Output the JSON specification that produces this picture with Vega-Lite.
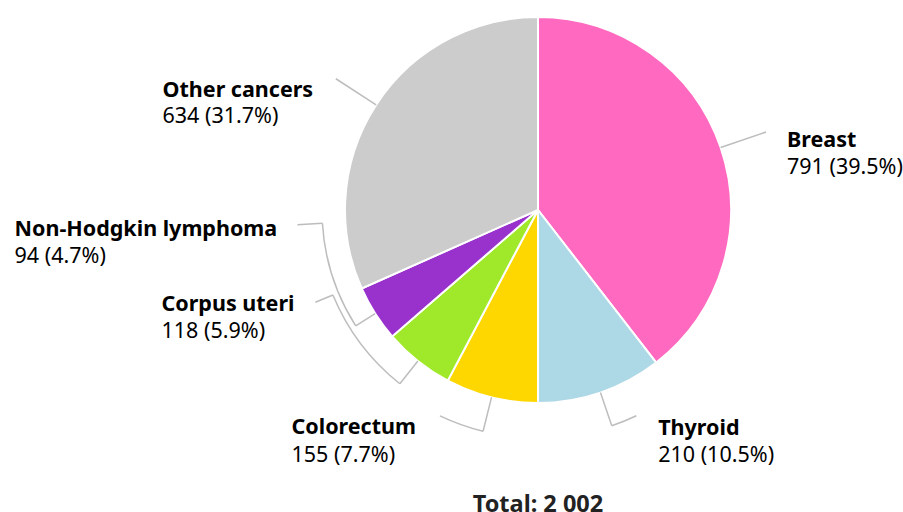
{
  "$schema": "https://vega.github.io/schema/vega-lite/v6.json",
  "width": 730,
  "height": 420,
  "autosize": {"type": "none"},
  "padding": {"left": 173, "top": 0, "right": 0, "bottom": 92},
  "background": "white",
  "config": {"view": {"stroke": null}, "font": "Noto Sans"},
  "title": {"text": "Total: 2 002", "orient": "bottom", "anchor": "middle", "frame": "group", "fontSize": 23.5, "fontWeight": "bold", "color": "#222222", "font": "Noto Sans", "offset": 26.5},
  "data": {"values": [
    {"cancer": "Breast", "count": 791, "rank": 1, "label": "791 (39.5%)"},
    {"cancer": "Thyroid", "count": 210, "rank": 2, "label": "210 (10.5%)"},
    {"cancer": "Colorectum", "count": 155, "rank": 3, "label": "155 (7.7%)"},
    {"cancer": "Corpus uteri", "count": 118, "rank": 4, "label": "118 (5.9%)"},
    {"cancer": "Non-Hodgkin lymphoma", "count": 94, "rank": 5, "label": "94 (4.7%)"},
    {"cancer": "Other cancers", "count": 634, "rank": 6, "label": "634 (31.7%)"}
  ]},
  "transform": [{"stack": "count", "groupby": [], "sort": [{"field": "rank", "order": "ascending"}], "as": ["t0", "t1"]}],
  "layer": [
    {
      "mark": {"type": "arc", "radius": 193, "stroke": "white", "strokeWidth": 2},
      "encoding": {
        "theta": {"field": "t0", "type": "quantitative", "stack": null, "scale": {"domain": [0, 2002], "nice": false}},
        "theta2": {"field": "t1"},
        "color": {"field": "cancer", "type": "nominal", "legend": null,
          "scale": {"domain": ["Breast", "Thyroid", "Colorectum", "Corpus uteri", "Non-Hodgkin lymphoma", "Other cancers"],
                    "range": ["#ff69c0", "#add8e6", "#ffd700", "#a0e82a", "#9932cc", "#cccccc"]}}
      }
    },
    {
      "transform": [{"filter": {"field": "cancer", "oneOf": ["Breast", "Other cancers"]}}],
      "mark": {"type": "arc", "filled": false, "stroke": "#bdbdbd", "strokeWidth": 1.5, "padAngle": 3, "radius": 241, "radius2": 193},
      "encoding": {"theta": {"field": "t0", "type": "quantitative", "stack": null, "scale": {"domain": [0, 2002], "nice": false}}, "theta2": {"field": "t1"}}
    },
    {
      "transform": [{"filter": {"field": "cancer", "oneOf": ["Thyroid", "Colorectum"]}}],
      "mark": {"type": "arc", "filled": false, "stroke": "#bdbdbd", "strokeWidth": 1.5, "padAngle": 3, "radius": 228, "radius2": 193},
      "encoding": {"theta": {"field": "t0", "type": "quantitative", "stack": null, "scale": {"domain": [0, 2002], "nice": false}}, "theta2": {"field": "t1"}}
    },
    {
      "transform": [{"filter": {"field": "cancer", "equal": "Corpus uteri"}}],
      "mark": {"type": "arc", "filled": false, "stroke": "#bdbdbd", "strokeWidth": 1.5, "padAngle": 3, "radius": 222, "radius2": 193},
      "encoding": {"theta": {"field": "t0", "type": "quantitative", "stack": null, "scale": {"domain": [0, 2002], "nice": false}}, "theta2": {"field": "t1"}}
    },
    {
      "transform": [{"filter": {"field": "cancer", "equal": "Non-Hodgkin lymphoma"}}],
      "mark": {"type": "arc", "filled": false, "stroke": "#bdbdbd", "strokeWidth": 1.5, "padAngle": 3, "radius": 216, "radius2": 193},
      "encoding": {"theta": {"field": "t0", "type": "quantitative", "stack": null, "scale": {"domain": [0, 2002], "nice": false}}, "theta2": {"field": "t1"}}
    },
    {
      "transform": [{"filter": {"field": "cancer", "equal": "Thyroid"}}],
      "mark": {"type": "arc", "filled": false, "stroke": "#bdbdbd", "strokeWidth": 1.5, "radius": 228, "radius2": 228, "thetaOffset": 0.32954, "theta2Offset": 0.21314},
      "encoding": {"theta": {"field": "t0", "type": "quantitative", "stack": null, "scale": {"domain": [0, 2002], "nice": false}}, "theta2": {"field": "t0"}}
    },
    {
      "transform": [{"filter": {"field": "cancer", "equal": "Colorectum"}}],
      "mark": {"type": "arc", "filled": false, "stroke": "#bdbdbd", "strokeWidth": 1.5, "radius": 228, "radius2": 228, "thetaOffset": 0.24323, "theta2Offset": 0.44436},
      "encoding": {"theta": {"field": "t0", "type": "quantitative", "stack": null, "scale": {"domain": [0, 2002], "nice": false}}, "theta2": {"field": "t0"}}
    },
    {
      "transform": [{"filter": {"field": "cancer", "equal": "Corpus uteri"}}],
      "mark": {"type": "arc", "filled": false, "stroke": "#bdbdbd", "strokeWidth": 1.5, "radius": 222, "radius2": 222, "thetaOffset": 0.18518, "theta2Offset": 0.69164},
      "encoding": {"theta": {"field": "t0", "type": "quantitative", "stack": null, "scale": {"domain": [0, 2002], "nice": false}}, "theta2": {"field": "t0"}}
    },
    {
      "transform": [{"filter": {"field": "cancer", "equal": "Non-Hodgkin lymphoma"}}],
      "mark": {"type": "arc", "filled": false, "stroke": "#bdbdbd", "strokeWidth": 1.5, "radius": 216, "radius2": 216, "thetaOffset": 0.14752, "theta2Offset": 0.65291},
      "encoding": {"theta": {"field": "t0", "type": "quantitative", "stack": null, "scale": {"domain": [0, 2002], "nice": false}}, "theta2": {"field": "t0"}}
    },
    {
      "transform": [{"filter": {"field": "cancer", "equal": "Corpus uteri"}}],
      "mark": {"type": "arc", "filled": false, "stroke": "#bdbdbd", "strokeWidth": 1.5, "radius": 241, "radius2": 222, "thetaOffset": 0.69164, "theta2Offset": 0.69164},
      "encoding": {"theta": {"field": "t0", "type": "quantitative", "stack": null, "scale": {"domain": [0, 2002], "nice": false}}, "theta2": {"field": "t0"}}
    },
    {
      "transform": [{"filter": {"field": "cancer", "equal": "Non-Hodgkin lymphoma"}}],
      "mark": {"type": "arc", "filled": false, "stroke": "#bdbdbd", "strokeWidth": 1.5, "radius": 241, "radius2": 216, "thetaOffset": 0.65291, "theta2Offset": 0.65291},
      "encoding": {"theta": {"field": "t0", "type": "quantitative", "stack": null, "scale": {"domain": [0, 2002], "nice": false}}, "theta2": {"field": "t0"}}
    },
    {
      "transform": [{"filter": {"field": "cancer", "equal": "Breast"}}],
      "mark": {"type": "text", "radius": 193, "align": "left", "baseline": "alphabetic", "dx": 249, "dy": 130, "fontSize": 21.5, "fontWeight": "bold", "color": "#000000"},
      "encoding": {"theta": {"field": "t0", "type": "quantitative", "stack": null, "scale": {"domain": [0, 2002], "nice": false}}, "text": {"field": "cancer"}}
    },
    {
      "transform": [{"filter": {"field": "cancer", "equal": "Breast"}}],
      "mark": {"type": "text", "radius": 193, "align": "left", "baseline": "alphabetic", "dx": 249, "dy": 156.5, "fontSize": 21.5, "color": "#000000"},
      "encoding": {"theta": {"field": "t0", "type": "quantitative", "stack": null, "scale": {"domain": [0, 2002], "nice": false}}, "text": {"field": "label"}}
    },
    {
      "transform": [{"filter": {"field": "cancer", "equal": "Thyroid"}}],
      "mark": {"type": "text", "radius": 193, "align": "left", "baseline": "alphabetic", "dx": 2, "dy": 72, "fontSize": 21.5, "fontWeight": "bold", "color": "#000000"},
      "encoding": {"theta": {"field": "t0", "type": "quantitative", "stack": null, "scale": {"domain": [0, 2002], "nice": false}}, "text": {"field": "cancer"}}
    },
    {
      "transform": [{"filter": {"field": "cancer", "equal": "Thyroid"}}],
      "mark": {"type": "text", "radius": 193, "align": "left", "baseline": "alphabetic", "dx": 2, "dy": 99, "fontSize": 21.5, "color": "#000000"},
      "encoding": {"theta": {"field": "t0", "type": "quantitative", "stack": null, "scale": {"domain": [0, 2002], "nice": false}}, "text": {"field": "label"}}
    },
    {
      "transform": [{"filter": {"field": "cancer", "equal": "Colorectum"}}],
      "mark": {"type": "text", "radius": 193, "align": "left", "baseline": "alphabetic", "dx": -246.5, "dy": 31, "fontSize": 21.5, "fontWeight": "bold", "color": "#000000"},
      "encoding": {"theta": {"field": "t0", "type": "quantitative", "stack": null, "scale": {"domain": [0, 2002], "nice": false}}, "text": {"field": "cancer"}}
    },
    {
      "transform": [{"filter": {"field": "cancer", "equal": "Colorectum"}}],
      "mark": {"type": "text", "radius": 193, "align": "left", "baseline": "alphabetic", "dx": -246.5, "dy": 59, "fontSize": 21.5, "color": "#000000"},
      "encoding": {"theta": {"field": "t0", "type": "quantitative", "stack": null, "scale": {"domain": [0, 2002], "nice": false}}, "text": {"field": "label"}}
    },
    {
      "transform": [{"filter": {"field": "cancer", "equal": "Corpus uteri"}}],
      "mark": {"type": "text", "radius": 193, "align": "left", "baseline": "alphabetic", "dx": -286.3, "dy": -70, "fontSize": 21.5, "fontWeight": "bold", "color": "#000000"},
      "encoding": {"theta": {"field": "t0", "type": "quantitative", "stack": null, "scale": {"domain": [0, 2002], "nice": false}}, "text": {"field": "cancer"}}
    },
    {
      "transform": [{"filter": {"field": "cancer", "equal": "Corpus uteri"}}],
      "mark": {"type": "text", "radius": 193, "align": "left", "baseline": "alphabetic", "dx": -286.3, "dy": -43, "fontSize": 21.5, "color": "#000000"},
      "encoding": {"theta": {"field": "t0", "type": "quantitative", "stack": null, "scale": {"domain": [0, 2002], "nice": false}}, "text": {"field": "label"}}
    },
    {
      "transform": [{"filter": {"field": "cancer", "equal": "Non-Hodgkin lymphoma"}}],
      "mark": {"type": "text", "radius": 193, "align": "left", "baseline": "alphabetic", "dx": -377.6, "dy": -100.7, "fontSize": 21.5, "fontWeight": "bold", "color": "#000000"},
      "encoding": {"theta": {"field": "t0", "type": "quantitative", "stack": null, "scale": {"domain": [0, 2002], "nice": false}}, "text": {"field": "cancer"}}
    },
    {
      "transform": [{"filter": {"field": "cancer", "equal": "Non-Hodgkin lymphoma"}}],
      "mark": {"type": "text", "radius": 193, "align": "left", "baseline": "alphabetic", "dx": -377.6, "dy": -73.7, "fontSize": 21.5, "color": "#000000"},
      "encoding": {"theta": {"field": "t0", "type": "quantitative", "stack": null, "scale": {"domain": [0, 2002], "nice": false}}, "text": {"field": "label"}}
    },
    {
      "transform": [{"filter": {"field": "cancer", "equal": "Other cancers"}}],
      "mark": {"type": "text", "radius": 193, "align": "left", "baseline": "alphabetic", "dx": -199.2, "dy": -191.8, "fontSize": 21.5, "fontWeight": "bold", "color": "#000000"},
      "encoding": {"theta": {"field": "t0", "type": "quantitative", "stack": null, "scale": {"domain": [0, 2002], "nice": false}}, "text": {"field": "cancer"}}
    },
    {
      "transform": [{"filter": {"field": "cancer", "equal": "Other cancers"}}],
      "mark": {"type": "text", "radius": 193, "align": "left", "baseline": "alphabetic", "dx": -199.2, "dy": -165.5, "fontSize": 21.5, "color": "#000000"},
      "encoding": {"theta": {"field": "t0", "type": "quantitative", "stack": null, "scale": {"domain": [0, 2002], "nice": false}}, "text": {"field": "label"}}
    }
  ]
}
